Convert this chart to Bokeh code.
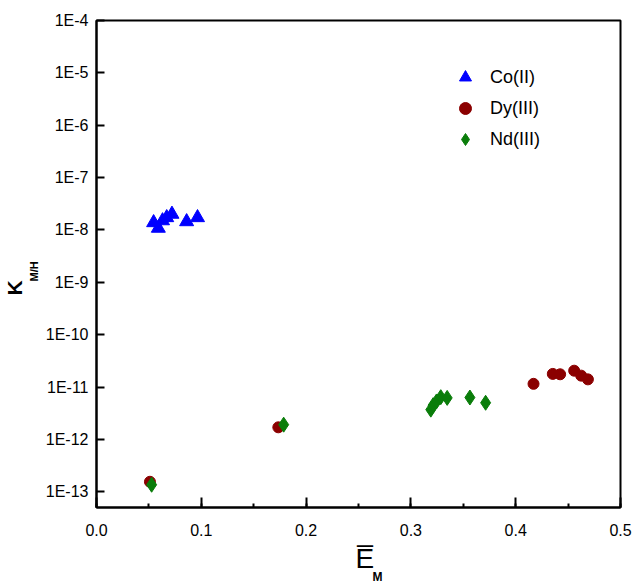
import math
from bokeh.plotting import figure
from bokeh.models import (Range1d, FixedTicker, SingleIntervalTicker, CustomJSTickFormatter,
                          NumeralTickFormatter, Title, Legend, LegendItem)
from bokeh.embed import file_html
from bokeh.resources import INLINE

# ---- data ----
co_x = [0.0545, 0.059, 0.063, 0.067, 0.072, 0.086, 0.0964]
co_y = [1.38e-8, 1.08e-8, 1.5e-8, 1.72e-8, 2.0e-8, 1.44e-8, 1.72e-8]

dy_x = [0.051, 0.1735, 0.417, 0.4354, 0.4424, 0.4558, 0.4625, 0.4689]
dy_y = [1.55e-13, 1.7e-12, 1.15e-11, 1.78e-11, 1.75e-11, 2.05e-11, 1.65e-11, 1.4e-11]

nd_x = [0.0526, 0.1786, 0.319, 0.3212, 0.3244, 0.3285, 0.3346, 0.3563, 0.3713]
nd_y = [1.36e-13, 1.91e-12, 3.7e-12, 4.5e-12, 5.3e-12, 6.4e-12, 6.2e-12, 6.3e-12, 5.0e-12]

series_names = ["Co(II)", "Dy(III)", "Nd(III)"]

y_ticks = [1e-13, 1e-12, 1e-11, 1e-10, 1e-9, 1e-8, 1e-7, 1e-6, 1e-5, 1e-4]
y_tick_labels = ["1E-13", "1E-12", "1E-11", "1E-10", "1E-9", "1E-8", "1E-7", "1E-6", "1E-5", "1E-4"]

FONT = "Liberation Sans"

p = figure(width=634, height=583, y_axis_type="log",
           x_range=Range1d(0, 0.5), y_range=Range1d(5e-14, 1e-4),
           output_backend="svg", toolbar_location=None,
           min_border_left=96, min_border_right=14, min_border_top=20, min_border_bottom=76)
p.grid.visible = False
p.outline_line_color = "black"
p.outline_line_width = 2
p.background_fill_color = "white"
p.border_fill_color = "white"

# axes
for ax in (p.xaxis[0], p.yaxis[0]):
    ax.axis_line_width = 2
    ax.axis_line_color = "black"
    ax.major_tick_line_width = 2
    ax.major_tick_line_color = "black"
    ax.major_tick_in = 8
    ax.major_tick_out = 0
    ax.major_label_text_font = FONT
    ax.major_label_text_font_size = "16px"
    ax.major_label_text_color = "black"

p.xaxis.ticker = SingleIntervalTicker(interval=0.1, num_minor_ticks=2)
p.xaxis.formatter = NumeralTickFormatter(format="0.0")
p.xaxis.minor_tick_in = 4
p.xaxis.minor_tick_out = 0
p.xaxis.minor_tick_line_width = 2
p.xaxis.minor_tick_line_color = "black"
p.xaxis.major_label_standoff = 16
p.xaxis.major_tick_in = 10

p.yaxis.ticker = FixedTicker(ticks=y_ticks)
p.yaxis.formatter = CustomJSTickFormatter(
    args=dict(ytk=y_ticks, ylab=y_tick_labels),
    code="""
    for (let i = 0; i < ytk.length; i++) {
      if (Math.abs(Math.log10(ytk[i]) - Math.log10(tick)) < 1e-6) return ylab[i];
    }
    return '';
    """)
p.yaxis.minor_tick_line_color = None
p.yaxis.major_label_standoff = 8

# data
r_co = p.scatter(co_x, co_y, marker="triangle", size=14, fill_color="#0000ff", line_color="#0000ff")
r_dy = p.scatter(dy_x, dy_y, marker="circle", size=11, fill_color="#8b0000", line_color="#8b0000")
r_nd = p.scatter(nd_x, nd_y, marker="diamond", size=15, fill_color="#0a7d0a", line_color="#0a7d0a")

legend = Legend(items=[LegendItem(label=series_names[0], renderers=[r_co]),
                       LegendItem(label=series_names[1], renderers=[r_dy]),
                       LegendItem(label=series_names[2], renderers=[r_nd])],
                location=(354, 353), padding=0, spacing=1,
                glyph_width=30, glyph_height=30, label_standoff=10,
                label_text_font=FONT, label_text_font_size="18px", label_text_color="black",
                border_line_color=None, background_fill_alpha=0)
p.add_layout(legend, "center")

# axis titles (side-panel titles so they are not clipped)
p.add_layout(Title(text="M/H", text_font=FONT, text_font_size="11px", text_font_style="bold",
                   text_color="black", align="left", offset=226, standoff=5), "left")
p.add_layout(Title(text="K", text_font=FONT, text_font_size="21px", text_font_style="bold",
                   text_color="black", align="left", offset=212, standoff=-4), "left")
p.add_layout(Title(text="E\u0305", text_font=FONT, text_font_size="28px", text_font_style="normal",
                   text_color="black", align="left", offset=259, standoff=4), "below")
p.add_layout(Title(text="M", text_font=FONT, text_font_size="12px", text_font_style="bold",
                   text_color="black", align="left", offset=276, standoff=-16), "below")

open("out.html", "w").write(file_html(p, INLINE))
